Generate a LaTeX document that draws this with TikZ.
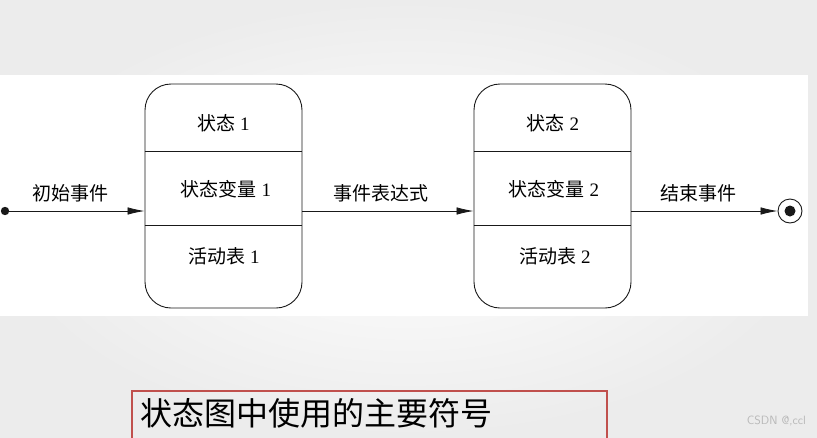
\documentclass[tikz,border=0pt]{standalone}
\usepackage{fontspec}
\setmainfont{Liberation Serif}
\newfontfamily\cjk{Noto Sans CJK SC}
\usetikzlibrary{positioning,arrows.meta}
\definecolor{ink}{RGB}{25,25,25}
\definecolor{slidegray}{HTML}{ECECEC}
\definecolor{titlered}{HTML}{C0504D}
\definecolor{markgray}{HTML}{B8B8B8}

\begin{document}
\begin{tikzpicture}[x=1pt, y=-1pt, font=\fontsize{19}{22}\selectfont,
  statebox/.style={draw=ink, line width=0.9pt, rounded corners=26pt, minimum width=157pt, minimum height=224pt, inner sep=0pt},
  divider/.style={draw=ink, line width=0.8pt},
  flow/.style={-{Latex[length=17pt,width=7.5pt]}, line width=0.8pt, draw=ink},
  evt/.style={inner sep=0pt}]
  \useasboundingbox (0,0) rectangle (817,437);
  \shade[inner color=white, outer color=slidegray] (0,0) rectangle (817,437);
  \fill[white] (0,75) rectangle (808,316);
  % state 1
  \node[statebox] (s1) at (223.5,196) {};
  \draw[divider] (s1.west |- 0,151) -- (s1.east |- 0,151);
  \draw[divider] (s1.west |- 0,225) -- (s1.east |- 0,225);
  \node[evt] (s1name) at (223.5,123) {{\cjk 状态} 1};
  \node[evt] (s1var) at (226,189) {{\cjk 状态变量} 1};
  \node[evt] (s1act) at (224,256) {{\cjk 活动表} 1};
  % state 2
  \node[statebox] (s2) at (552.5,196) {};
  \draw[divider] (s2.west |- 0,151) -- (s2.east |- 0,151);
  \draw[divider] (s2.west |- 0,225) -- (s2.east |- 0,225);
  \node[evt] (s2name) at (553,123) {{\cjk 状态} 2};
  \node[evt] (s2var) at (554,189) {{\cjk 状态变量} 2};
  \node[evt] (s2act) at (555,256) {{\cjk 活动表} 2};
  % start and end
  \fill[ink] (5,211) circle (4.2pt) coordinate (start);
  \node[circle, draw=ink, line width=0.9pt, minimum size=24pt, inner sep=0pt] (final) at (790,211) {};
  \fill[ink] (final.center) circle (5.5pt);
  \draw[flow] (start) -- (start -| s1.west);
  \draw[flow] (start -| s1.east) -- (start -| s2.west);
  \draw[flow] (start -| s2.east) -- (final.west);
  \node[evt, font=\cjk\fontsize{19}{22}\selectfont] (initlabel) at (70,193) {初始事件};
  \node[evt, font=\cjk\fontsize{19}{22}\selectfont] (exprlabel) at (381,193) {事件表达式};
  \node[evt, font=\cjk\fontsize{19}{22}\selectfont] (endlabel) at (698,193) {结束事件};
  % title
  \node[draw=titlered, line width=2pt, minimum width=475pt, minimum height=70pt, anchor=north west] (titleframe) at (131,390) {};
  \node[evt, anchor=west, font=\cjk\fontsize{32}{36}\selectfont] (title) at (140,413) {状态图中使用的主要符号};
  \node[evt, anchor=east, text=markgray, font=\sffamily\fontsize{12}{13}\selectfont] (mark) at (806,421) {CSDN @,ccl};
\end{tikzpicture}
\end{document}
